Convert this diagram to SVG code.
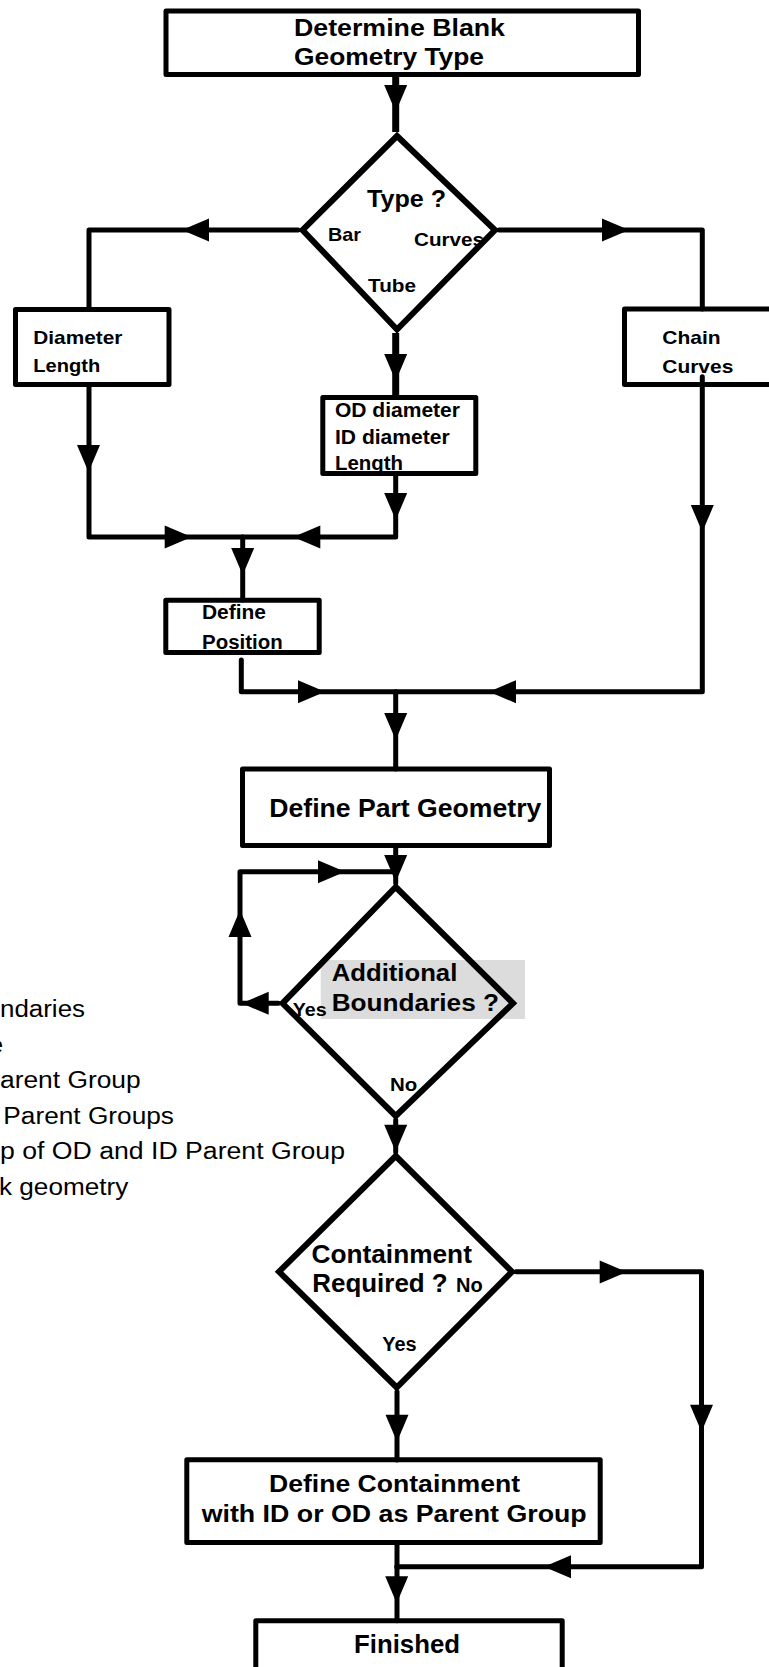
<svg xmlns="http://www.w3.org/2000/svg" xmlns:xlink="http://www.w3.org/1999/xlink" width="769" height="1667" viewBox="0 0 769 1667">
  <style>
    .box { fill: #fff; stroke: #000; stroke-width: 5; stroke-linejoin: round; }
    .dia { fill: none; stroke: #000; stroke-width: 6; stroke-linejoin: miter; }
    .wire { fill: none; stroke: #000; stroke-width: 5; stroke-linejoin: round; stroke-linecap: round; }
    .thick { stroke-width: 7; stroke-linecap: butt; }
    .hl { fill: #dcdcdc; }
    .b { font-family: "Liberation Sans", Arial, Helvetica, sans-serif; font-weight: bold; fill: #000; }
    .r { font-family: "Liberation Sans", Arial, Helvetica, sans-serif; font-weight: normal; fill: #000; font-size: 23px; }
  </style>
  <defs>
    <!-- filled arrowhead, tip at the origin, pointing along +x -->
    <path id="ah" d="M0,0 L-27,-11.5 L-27,11.5 Z" fill="#000"/>
  </defs>

  <rect width="769" height="1667" fill="#fff"/>

  <!-- notes running off the left edge -->
  <g id="notes">
    <text class="r" x="0" y="1016.7" textLength="85" lengthAdjust="spacingAndGlyphs">ndaries</text>
    <text class="r" x="-11.4" y="1052.5" textLength="14.7" lengthAdjust="spacingAndGlyphs">e</text>
    <text class="r" x="0" y="1088.3" textLength="140.7" lengthAdjust="spacingAndGlyphs">arent Group</text>
    <text class="r" x="3.3" y="1124" textLength="170.7" lengthAdjust="spacingAndGlyphs">Parent Groups</text>
    <text class="r" x="0" y="1159.3" textLength="345" lengthAdjust="spacingAndGlyphs">p of OD and ID Parent Group</text>
    <text class="r" x="-1" y="1194.5" textLength="129.3" lengthAdjust="spacingAndGlyphs">k geometry</text>
  </g>

  <!-- nodes -->
  <g id="determine">
    <rect class="box" x="166" y="11" width="472.5" height="63.5"/>
    <text class="b" font-size="24" x="294" y="36" textLength="211" lengthAdjust="spacingAndGlyphs">Determine Blank</text>
    <text class="b" font-size="24" x="294" y="65" textLength="190" lengthAdjust="spacingAndGlyphs">Geometry Type</text>
  </g>

  <g id="type">
    <polygon class="dia" points="397,136 495,230 397,329.5 302.5,230"/>
    <text class="b" font-size="23" x="367" y="207" textLength="79" lengthAdjust="spacingAndGlyphs">Type ?</text>
    <text class="b" font-size="19" x="328" y="240.7" textLength="33" lengthAdjust="spacingAndGlyphs">Bar</text>
    <text class="b" font-size="19" x="414" y="246" textLength="70" lengthAdjust="spacingAndGlyphs">Curves</text>
    <text class="b" font-size="19" x="368" y="291.7" textLength="48" lengthAdjust="spacingAndGlyphs">Tube</text>
  </g>

  <g id="bar">
    <rect class="box" x="15.5" y="309.5" width="153.5" height="75"/>
    <text class="b" font-size="19" x="33.3" y="344" textLength="89" lengthAdjust="spacingAndGlyphs">Diameter</text>
    <text class="b" font-size="19" x="33.3" y="372.3" textLength="67" lengthAdjust="spacingAndGlyphs">Length</text>
  </g>

  <g id="curves">
    <rect class="box" x="624.5" y="309" width="200" height="75.5"/>
    <text class="b" font-size="19" x="662.3" y="344" textLength="58.4" lengthAdjust="spacingAndGlyphs">Chain</text>
    <text class="b" font-size="19" x="662.3" y="372.7" textLength="71" lengthAdjust="spacingAndGlyphs">Curves</text>
  </g>

  <g id="tube">
    <rect class="box" x="322.8" y="397.5" width="153" height="76"/>
    <text class="b" font-size="20" x="335" y="417.3" textLength="125" lengthAdjust="spacingAndGlyphs">OD diameter</text>
    <text class="b" font-size="20" x="335" y="444" textLength="114.7" lengthAdjust="spacingAndGlyphs">ID diameter</text>
    <text class="b" font-size="20" x="335" y="470" textLength="68" lengthAdjust="spacingAndGlyphs">Length</text>
  </g>

  <g id="position">
    <rect class="box" x="165.8" y="600.2" width="153.4" height="52.3"/>
    <text class="b" font-size="20" x="202" y="619.3" textLength="64" lengthAdjust="spacingAndGlyphs">Define</text>
    <text class="b" font-size="20" x="202" y="649.3" textLength="80.7" lengthAdjust="spacingAndGlyphs">Position</text>
  </g>

  <g id="part">
    <rect class="box" x="242.5" y="769" width="307" height="76.5"/>
    <text class="b" font-size="25" x="269.3" y="816.7" textLength="272" lengthAdjust="spacingAndGlyphs">Define Part Geometry</text>
  </g>

  <g id="boundaries">
    <rect class="hl" x="320.7" y="960" width="204.3" height="59"/>
    <polygon class="dia" points="395.7,887 513,1003.3 395.7,1116 282.5,1003.3"/>
    <text class="b" font-size="23" x="331.7" y="980.7" textLength="125.6" lengthAdjust="spacingAndGlyphs">Additional</text>
    <text class="b" font-size="23" x="331.7" y="1010.7" textLength="167.3" lengthAdjust="spacingAndGlyphs">Boundaries ?</text>
    <text class="b" font-size="18" x="292.7" y="1015.7" textLength="34" lengthAdjust="spacingAndGlyphs">Yes</text>
    <text class="b" font-size="19" x="390" y="1090.7" textLength="27.3" lengthAdjust="spacingAndGlyphs">No</text>
  </g>

  <g id="containment">
    <polygon class="dia" points="395.7,1156 512,1271.7 396.7,1387.5 279,1271.7"/>
    <text class="b" font-size="25" x="311.5" y="1262.7" textLength="160.4" lengthAdjust="spacingAndGlyphs">Containment</text>
    <text class="b" font-size="25" x="312.3" y="1291.7" textLength="135.4" lengthAdjust="spacingAndGlyphs">Required ?</text>
    <text class="b" font-size="20" x="456" y="1291.7" textLength="26.7" lengthAdjust="spacingAndGlyphs">No</text>
    <text class="b" font-size="20" x="382.3" y="1350.7" textLength="34.4" lengthAdjust="spacingAndGlyphs">Yes</text>
  </g>

  <g id="define-containment">
    <rect class="box" x="186.8" y="1459.8" width="413.4" height="82.7"/>
    <text class="b" font-size="23" x="269" y="1491.7" textLength="251" lengthAdjust="spacingAndGlyphs">Define Containment</text>
    <text class="b" font-size="23" x="201.7" y="1521.7" textLength="385" lengthAdjust="spacingAndGlyphs">with ID or OD as Parent Group</text>
  </g>

  <g id="finished">
    <rect class="box" x="255.8" y="1620.8" width="306.4" height="80"/>
    <text class="b" font-size="25" x="354" y="1653.3" textLength="106" lengthAdjust="spacingAndGlyphs">Finished</text>
  </g>

  <!-- connectors -->
  <g id="connectors">
    <path class="wire thick" d="M395.7,74.5 V132"/>
    <path class="wire" d="M298,230 H89 V309.5"/>
    <path class="wire" d="M499,230 H702.3 V309"/>
    <path class="wire thick" d="M395.7,333 V397.5"/>
    <path class="wire" d="M89,384.5 V537 H395.7 V473.5"/>
    <path class="wire" d="M242.7,537 V600"/>
    <path class="wire" d="M702.3,376.7 V691.7 H241.3 V660"/>
    <path class="wire" d="M395.7,691.7 V769"/>
    <path class="wire" d="M395.7,845.5 V883"/>
    <path class="wire" d="M278.3,1003.3 H240 V871.7 H395.7"/>
    <path class="wire" d="M395.7,1120 V1152"/>
    <path class="wire" d="M516,1271.7 H701.5 V1566.7 H396.7"/>
    <path class="wire" d="M397,1391.7 V1460"/>
    <path class="wire" d="M397,1542.5 V1620.8"/>

    <use xlink:href="#ah" href="#ah" transform="translate(395.7,112) rotate(90)"/>
    <use xlink:href="#ah" href="#ah" transform="translate(182,230) rotate(180)"/>
    <use xlink:href="#ah" href="#ah" transform="translate(629,230)"/>
    <use xlink:href="#ah" href="#ah" transform="translate(395.7,381) rotate(90)"/>
    <use xlink:href="#ah" href="#ah" transform="translate(88.5,472) rotate(90)"/>
    <use xlink:href="#ah" href="#ah" transform="translate(395.7,520) rotate(90)"/>
    <use xlink:href="#ah" href="#ah" transform="translate(191.7,537)"/>
    <use xlink:href="#ah" href="#ah" transform="translate(293.3,537) rotate(180)"/>
    <use xlink:href="#ah" href="#ah" transform="translate(242.7,575) rotate(90)"/>
    <use xlink:href="#ah" href="#ah" transform="translate(702.3,532) rotate(90)"/>
    <use xlink:href="#ah" href="#ah" transform="translate(325,691.7)"/>
    <use xlink:href="#ah" href="#ah" transform="translate(489,691.7) rotate(180)"/>
    <use xlink:href="#ah" href="#ah" transform="translate(395.7,740) rotate(90)"/>
    <use xlink:href="#ah" href="#ah" transform="translate(395.7,882) rotate(90)"/>
    <use xlink:href="#ah" href="#ah" transform="translate(345,871.7)"/>
    <use xlink:href="#ah" href="#ah" transform="translate(240,910) rotate(-90)"/>
    <use xlink:href="#ah" href="#ah" transform="translate(241.7,1003.3) rotate(180)"/>
    <use xlink:href="#ah" href="#ah" transform="translate(395.7,1151.7) rotate(90)"/>
    <use xlink:href="#ah" href="#ah" transform="translate(626.7,1272)"/>
    <use xlink:href="#ah" href="#ah" transform="translate(701.5,1431.7) rotate(90)"/>
    <use xlink:href="#ah" href="#ah" transform="translate(544,1566.7) rotate(180)"/>
    <use xlink:href="#ah" href="#ah" transform="translate(397,1441.7) rotate(90)"/>
    <use xlink:href="#ah" href="#ah" transform="translate(396.7,1603.3) rotate(90)"/>
  </g>
</svg>
